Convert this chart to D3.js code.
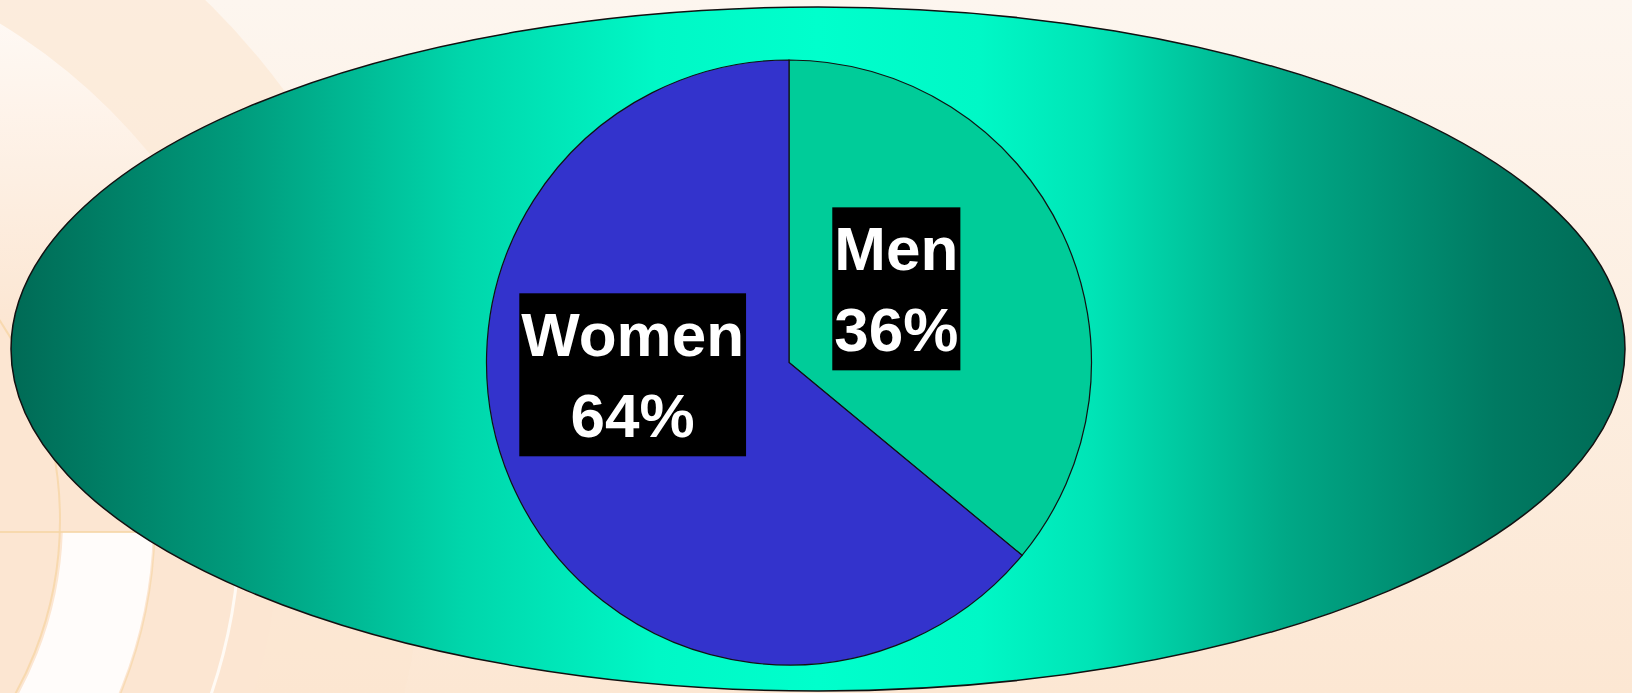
<!DOCTYPE html>
<html>
<head>
<meta charset="utf-8">
<script src="https://cdn.jsdelivr.net/npm/d3@7"></script>
<style>
  html, body { margin: 0; padding: 0; overflow: hidden; }
  svg { display: block; }
</style>
</head>
<body>
<svg id="drawing_region"></svg>
<script>
// chart data
const categories = ["Men", "Women"];
const shares = [36, 64];
const sliceColors = ["#00cc99", "#3333cc"];

const width = 1632, height = 693;

const svg = d3.select("#drawing_region")
    .attr("width", width)
    .attr("height", height);

const defs = svg.append("defs");

// page background: soft peach
const bg = defs.append("linearGradient")
    .attr("id", "bgGrad")
    .attr("x1", 0).attr("y1", 0).attr("x2", 0).attr("y2", 1);
bg.append("stop").attr("offset", "0%").attr("stop-color", "#fdf6ef");
bg.append("stop").attr("offset", "100%").attr("stop-color", "#fce7d3");

// white wash that fades out downwards (top-left ripple)
const wash = defs.append("linearGradient")
    .attr("id", "washGrad")
    .attr("gradientUnits", "userSpaceOnUse")
    .attr("x1", 0).attr("y1", 0).attr("x2", 0).attr("y2", 330);
wash.append("stop").attr("offset", "0%").attr("stop-color", "#fffbf8").attr("stop-opacity", 0.95);
wash.append("stop").attr("offset", "100%").attr("stop-color", "#fffbf8").attr("stop-opacity", 0);

// the plot area ellipse: dark teal at the edges, bright in the middle
const ellStops = [
    [0, "#006a55"], [14, "#009b7c"], [28, "#00d6ab"], [40, "#00f8c6"],
    [50, "#00ffcc"], [60, "#00f8c6"], [67, "#00e4b6"], [79, "#00a886"],
    [92, "#007a62"], [100, "#006a55"]
];
const ell = defs.append("linearGradient")
    .attr("id", "ellGrad")
    .attr("x1", 0).attr("y1", 0).attr("x2", 1).attr("y2", 0);
ell.selectAll("stop")
    .data(ellStops)
    .join("stop")
    .attr("offset", d => d[0] + "%")
    .attr("stop-color", d => d[1]);

defs.append("clipPath").attr("id", "lowerClip")
    .append("rect").attr("x", 0).attr("y", 532).attr("width", 400).attr("height", 200);

svg.append("rect")
    .attr("width", width)
    .attr("height", height)
    .attr("fill", "url(#bgGrad)");

// faint ripple circles in the left corner of the template
const deco = svg.append("g").attr("transform", "translate(-300,520)");
deco.append("circle").attr("r", 725).attr("fill", "#fbe6d0").attr("opacity", 0.6);
deco.append("circle").attr("r", 580).attr("fill", "#fce6d2");
deco.append("circle").attr("r", 580).attr("fill", "url(#washGrad)")
    .attr("transform", "translate(300,-520)")
    .attr("cx", -300).attr("cy", 520);
svg.append("circle")
    .attr("cx", -300).attr("cy", 520).attr("r", 408)
    .attr("fill", "none")
    .attr("stroke", "#fffcfa").attr("stroke-width", 90)
    .attr("clip-path", "url(#lowerClip)");
deco.append("circle").attr("r", 360).attr("fill", "none")
    .attr("stroke", "#f6d6a6").attr("stroke-width", 2).attr("opacity", 0.8);
svg.append("circle")
    .attr("cx", -300).attr("cy", 520).attr("r", 455)
    .attr("fill", "none")
    .attr("stroke", "#f6d6a6").attr("stroke-width", 1.5).attr("opacity", 0.7)
    .attr("clip-path", "url(#lowerClip)");
svg.append("circle")
    .attr("cx", -300).attr("cy", 520).attr("r", 540)
    .attr("fill", "none")
    .attr("stroke", "#fffaf4").attr("stroke-width", 3)
    .attr("clip-path", "url(#lowerClip)");
svg.append("line")
    .attr("x1", 0).attr("x2", 150).attr("y1", 532).attr("y2", 532)
    .attr("stroke", "#f6d6a6").attr("stroke-width", 2).attr("opacity", 0.8);

// ellipse
const ecx = 818, ecy = 349, erx = 807, ery = 342;
svg.append("ellipse")
    .attr("cx", ecx).attr("cy", ecy)
    .attr("rx", erx).attr("ry", ery)
    .attr("fill", "url(#ellGrad)")
    .attr("stroke", "#111")
    .attr("stroke-width", 1.5);

// pie
const cx = 789, cy = 362.5, radius = 302.5;

const pieData = categories.map((c, i) => ({ name: c, value: shares[i], color: sliceColors[i] }));

const pie = d3.pie()
    .sort(null)
    .value(d => d.value);

const arc = d3.arc()
    .innerRadius(0)
    .outerRadius(radius);

const labelArc = d3.arc()
    .innerRadius(radius * 0.52)
    .outerRadius(radius * 0.52);

// Excel's best-fit placement, relative to the centroid
const labelNudge = { Men: [-35, -7], Women: [-14, -55] };

const g = svg.append("g").attr("transform", `translate(${cx},${cy})`);

const arcs = pie(pieData);

g.selectAll("path.slice")
    .data(arcs)
    .join("path")
    .attr("class", "slice")
    .attr("d", arc)
    .attr("fill", d => d.data.color)
    .attr("stroke", "#111")
    .attr("stroke-width", 1.2);

const labels = g.selectAll("g.label")
    .data(arcs)
    .join("g")
    .attr("class", "label")
    .attr("transform", d => {
        const c = labelArc.centroid(d);
        const n = labelNudge[d.data.name];
        return `translate(${c[0] + n[0]},${c[1] + n[1]})`;
    });

const lineGap = 81;
const fontSize = 62;

labels.append("rect").attr("fill", "#000");

const texts = labels.append("text")
    .attr("text-anchor", "middle")
    .attr("font-family", "'Liberation Sans', Arial, sans-serif")
    .attr("font-weight", "bold")
    .attr("font-size", fontSize)
    .attr("fill", "#fff");

texts.append("tspan")
    .attr("x", 0)
    .attr("y", -lineGap / 2 + fontSize * 0.36)
    .text(d => d.data.name);
texts.append("tspan")
    .attr("x", 0)
    .attr("y", lineGap / 2 + fontSize * 0.36)
    .text(d => d.data.value + "%");

// fit the black boxes to the text
texts.each(function() {
    const b = this.getBBox();
    d3.select(this.parentNode).select("rect")
        .attr("x", b.x - 2)
        .attr("y", b.y - 7)
        .attr("width", b.width + 4)
        .attr("height", b.height + 13);
});
</script>
</body>
</html>
